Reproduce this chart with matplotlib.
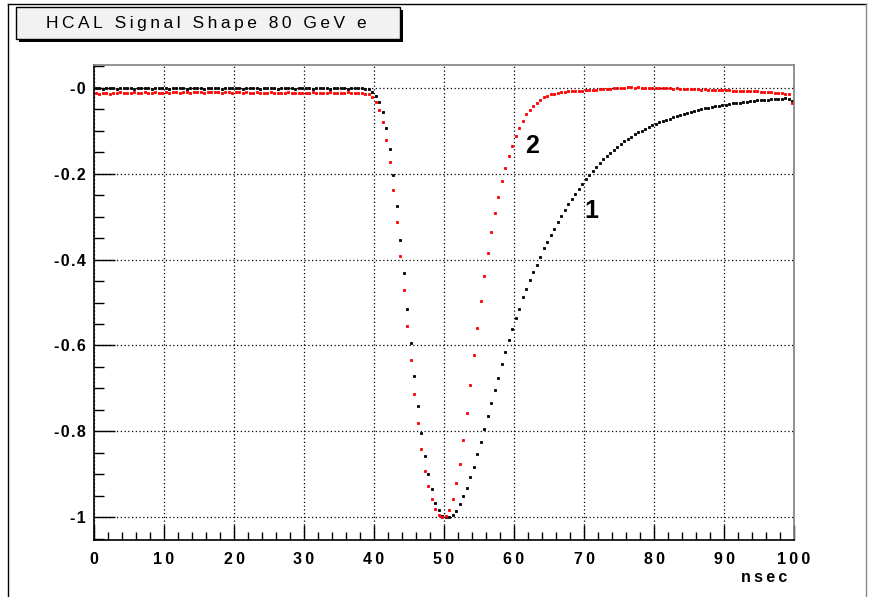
import matplotlib
matplotlib.use('Agg')
import matplotlib.pyplot as plt
from matplotlib.patches import Rectangle
from matplotlib.lines import Line2D
from matplotlib.ticker import MultipleLocator
import numpy as np

plt.rcParams['font.family'] = ['Liberation Sans', 'DejaVu Sans']

W, H = 869, 597

# histogram: 200 bins from 0 to 100 ns, values at bin centres
nbins = 200
t_lo, t_hi = 0.0, 100.0

# curve 1 (black)
shape1_flat = [
    -0.002, -0.001, -0.003, -0.002, -0.001, -0.002, -0.003, -0.001, -0.002, -0.002,
    -0.001, -0.003, -0.002, -0.002, -0.001, -0.002, -0.003, -0.002, -0.001, -0.002,
    -0.002, -0.003, -0.001, -0.002, -0.002, -0.001, -0.003, -0.002, -0.002, -0.001,
    -0.002, -0.003, -0.002, -0.001, -0.002, -0.002, -0.003, -0.001, -0.002, -0.002,
    -0.001, -0.002, -0.003, -0.002, -0.002, -0.001, -0.002, -0.003, -0.002, -0.001,
    -0.002, -0.002, -0.003, -0.001, -0.002, -0.002, -0.001, -0.003, -0.002, -0.002,
    -0.001, -0.002, -0.003, -0.002, -0.001, -0.002, -0.002, -0.003, -0.001, -0.002,
    -0.002, -0.001, -0.003, -0.002, -0.002, -0.001, -0.002, -0.003]
shape1_pulse = [
    -0.004, -0.010, -0.019, -0.033, -0.057, -0.093, -0.143, -0.203, -0.276, -0.354,
    -0.432, -0.516, -0.595, -0.671, -0.741, -0.803, -0.857, -0.900, -0.935, -0.966,
    -0.983, -0.997, -1.000, -0.999, -0.995, -0.984, -0.968, -0.951, -0.931, -0.906,
    -0.883, -0.852, -0.824, -0.794, -0.764, -0.734, -0.703, -0.675, -0.644, -0.616,
    -0.587, -0.561, -0.535, -0.514, -0.488, -0.468, -0.448, -0.429, -0.412, -0.393,
    -0.374, -0.359]
shape1_tail = [
    -0.343, -0.328, -0.313, -0.299, -0.285, -0.272, -0.259, -0.247, -0.235, -0.224,
    -0.213, -0.203, -0.193, -0.184, -0.175, -0.167, -0.159, -0.152, -0.145, -0.138,
    -0.131, -0.125, -0.120, -0.114, -0.109, -0.104, -0.100, -0.096, -0.092, -0.088,
    -0.085, -0.081, -0.078, -0.075, -0.072, -0.069, -0.066, -0.063, -0.061, -0.058,
    -0.056, -0.054, -0.052, -0.050, -0.048, -0.047, -0.045, -0.044, -0.042, -0.041,
    -0.040, -0.039, -0.037, -0.036, -0.035, -0.034, -0.033, -0.032, -0.031, -0.030,
    -0.029, -0.029, -0.028, -0.027, -0.027, -0.026, -0.026, -0.025, -0.026, -0.032]

# curve 2 (red)
shape2_flat = [
    -0.013, -0.014, -0.012, -0.013, -0.014, -0.012, -0.013, -0.011, -0.012, -0.013,
    -0.012, -0.011, -0.012, -0.013, -0.011, -0.012, -0.012, -0.011, -0.013, -0.012,
    -0.011, -0.012, -0.010, -0.011, -0.012, -0.011, -0.010, -0.012, -0.011, -0.010,
    -0.011, -0.012, -0.010, -0.011, -0.010, -0.011, -0.012, -0.010, -0.011, -0.012,
    -0.011, -0.010, -0.012, -0.011, -0.012, -0.013, -0.011, -0.012, -0.013, -0.012,
    -0.011, -0.013, -0.012, -0.013, -0.012, -0.011, -0.013, -0.012, -0.013, -0.012,
    -0.013, -0.012, -0.011, -0.013, -0.012, -0.013, -0.012, -0.011, -0.013, -0.012,
    -0.012, -0.013, -0.011, -0.012, -0.013, -0.012, -0.013, -0.014]
shape2_pulse = [
    -0.016, -0.022, -0.033, -0.053, -0.079, -0.122, -0.173, -0.239, -0.312, -0.392,
    -0.470, -0.555, -0.634, -0.713, -0.780, -0.840, -0.891, -0.926, -0.958, -0.981,
    -0.995, -1.000, -0.997, -0.983, -0.957, -0.921, -0.875, -0.819, -0.756, -0.691,
    -0.623, -0.560, -0.496, -0.439, -0.385, -0.336, -0.292, -0.254, -0.218, -0.187,
    -0.160, -0.136, -0.113, -0.095, -0.077, -0.062, -0.052, -0.042, -0.035, -0.029,
    -0.023, -0.019]
shape2_tail = [
    -0.016, -0.014, -0.012, -0.011, -0.010, -0.009, -0.009, -0.008, -0.007, -0.007,
    -0.006, -0.006, -0.005, -0.005, -0.004, -0.004, -0.003, -0.003, -0.002, -0.002,
    -0.001, -0.001, 0.001, 0.001, 0.000, 0.001, 0.000, -0.001, 0.000, -0.001,
    -0.001, -0.002, -0.001, -0.002, -0.002, -0.003, -0.002, -0.003, -0.003, -0.004,
    -0.003, -0.004, -0.004, -0.005, -0.004, -0.005, -0.005, -0.005, -0.006, -0.005,
    -0.006, -0.006, -0.007, -0.007, -0.007, -0.008, -0.008, -0.008, -0.009, -0.009,
    -0.010, -0.010, -0.011, -0.011, -0.012, -0.012, -0.013, -0.014, -0.015, -0.037]

xticks = [0, 10, 20, 30, 40, 50, 60, 70, 80, 90, 100]
yticks = [0, -0.2, -0.4, -0.6, -0.8, -1.0]
ylabels = ['-0', '-0.2', '-0.4', '-0.6', '-0.8', '-1']
title = 'HCAL Signal Shape 80 GeV e'
xunit = 'nsec'

shape1 = np.array(shape1_flat + shape1_pulse + shape1_tail)
shape2 = np.array(shape2_flat + shape2_pulse + shape2_tail)
edges = np.linspace(t_lo, t_hi, nbins + 1)
t = 0.5 * (edges[:-1] + edges[1:])


def spaced(s, gap='\u2009'):
    # ROOT draws its text with wide letter spacing
    return gap.join(s)


def fx(x):
    return x / W


def fy(y):
    return 1 - y / H


fig = plt.figure(figsize=(W / 100, H / 100), dpi=100)
fig.patch.set_facecolor('white')

# pad border
fig.add_artist(Line2D([fx(8), fx(8)], [fy(4), fy(597)], color='k', lw=1))
fig.add_artist(Line2D([fx(8), fx(866)], [fy(4), fy(4)], color='k', lw=1))
fig.add_artist(Line2D([fx(866), fx(866)], [fy(4), fy(597)], color='#888888', lw=1))

# title box with shadow
fig.add_artist(Rectangle((fx(19), fy(42)), fx(384), (42 - 10) / H,
                         facecolor='k', edgecolor='none'))
fig.add_artist(Rectangle((fx(16), fy(39)), fx(384), (39 - 7) / H,
                         facecolor='#f2f2f2', edgecolor='k', lw=1))
fig.text(fx(206), fy(23.5), spaced(title), ha='center', va='center', fontsize=12.5)

ax = fig.add_axes([fx(94), fy(540), fx(700), (540 - 65) / H])
ax.plot(t, shape1, ls='none', marker='s', ms=2.0, mfc='k', mec='k', mew=0.6)
ax.plot(t, shape2, ls='none', marker='s', ms=2.0, mfc='#ff0000', mec='#ff0000', mew=0.6)

ax.set_xlim(0, 100)
ax.set_ylim(-1.0525, 0.0525)
ax.set_xticks(xticks, labels=[spaced(str(v)) for v in xticks])
ax.set_yticks(yticks, labels=[spaced(s, '\u200a') for s in ylabels])
ax.xaxis.set_minor_locator(MultipleLocator(2))
ax.yaxis.set_minor_locator(MultipleLocator(0.05))
for lab in ax.get_xticklabels() + ax.get_yticklabels():
    lab.set_fontweight('bold')
    lab.set_fontsize(11.5)

ax.tick_params(axis='x', which='major', direction='in', length=11, width=1, pad=9)
ax.tick_params(axis='x', which='minor', direction='in', length=5.5, width=1)
ax.tick_params(axis='y', which='major', direction='in', length=15, width=1, pad=6)
ax.tick_params(axis='y', which='minor', direction='in', length=7.5, width=1)
ax.grid(True, which='major', color='k', ls=(0, (1, 2)), lw=0.9)

ax.spines['left'].set_linewidth(1.2)
ax.spines['bottom'].set_linewidth(1.2)
for s in ['top', 'right']:
    ax.spines[s].set_color('#808080')
    ax.spines[s].set_linewidth(1.2)

ax.text(0.99, -0.08, spaced(xunit), transform=ax.transAxes, ha='right', va='center',
        fontsize=11.5, fontweight='bold')
ax.text(62.6, -0.135, '2', ha='center', va='center', fontsize=18, fontweight='bold')
ax.text(71.1, -0.286, '1', ha='center', va='center', fontsize=18, fontweight='bold')

fig.savefig('out.png', dpi=100)
